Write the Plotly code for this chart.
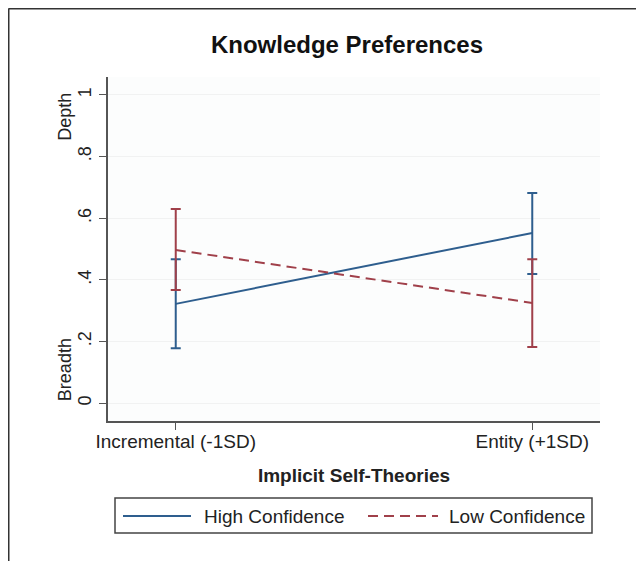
import plotly.graph_objects as go

# ---- data ----
categories = ["Incremental (-1SD)", "Entity (+1SD)"]
x_pos = [0, 1]
high_mean = [0.322, 0.552]
high_lo = [0.178, 0.419]
high_hi = [0.467, 0.682]
low_mean = [0.497, 0.325]
low_lo = [0.367, 0.182]
low_hi = [0.630, 0.467]
y_ticks = [0, 0.2, 0.4, 0.6, 0.8, 1]
y_ticktext = ["0", ".2", ".4", ".6", ".8", "1"]

BLUE = "#2e5e8e"
RED = "#a0404a"
FONT = "Liberation Sans, Arial, sans-serif"
FS = 19

fig = go.Figure()

def add_series(mean, lo, hi, color, dash, name):
    fig.add_trace(go.Scatter(
        x=x_pos, y=mean, mode="lines", name=name,
        line=dict(color=color, width=2, dash=dash),
        error_y=dict(type="data", symmetric=False,
                     array=[h - m for h, m in zip(hi, mean)],
                     arrayminus=[m - l for m, l in zip(mean, lo)],
                     color=color, thickness=2, width=5),
        showlegend=False,
    ))

add_series(high_mean, high_lo, high_hi, BLUE, "solid", "High Confidence")
add_series(low_mean, low_lo, low_hi, RED, "10px,6px", "Low Confidence")

# page has an 8px body margin; work in reference-pixel coordinates
OFF = 8
W, H = 644, 561
FIG_W, FIG_H = W - OFF, H - OFF
L, R, T, B = 108, 600, 77, 421
def px(v):
    return (v - L) / (R - L)
def py(v):
    return (B - v) / (B - T)

shapes = [
    dict(type="line", xref="paper", yref="paper", x0=px(8.5), x1=px(W), y0=py(8.5), y1=py(8.5),
         line=dict(color="#333333", width=2)),
    dict(type="line", xref="paper", yref="paper", x0=px(8.5), x1=px(8.5), y0=py(8.5), y1=py(H),
         line=dict(color="#333333", width=2)),
    dict(type="rect", xref="paper", yref="paper", x0=px(115), x1=px(592), y0=py(533), y1=py(498),
         line=dict(color="#444444", width=1.5), fillcolor="white"),
    dict(type="line", xref="paper", yref="paper", x0=px(123), x1=px(191), y0=py(516), y1=py(516),
         line=dict(color=BLUE, width=2)),
    dict(type="line", xref="paper", yref="paper", x0=px(368), x1=px(438), y0=py(516), y1=py(516),
         line=dict(color=RED, width=2, dash="10px,6px")),
]

annotations = [
    dict(text="High Confidence", xref="paper", yref="paper", x=px(202), y=py(516),
         xanchor="left", yanchor="middle", showarrow=False, font=dict(size=FS, color="#222", family=FONT)),
    dict(text="Low Confidence", xref="paper", yref="paper", x=px(447), y=py(516),
         xanchor="left", yanchor="middle", showarrow=False, font=dict(size=FS, color="#222", family=FONT)),
    dict(text="Depth", xref="paper", yref="y", x=px(65), y=0.929, textangle=-90,
         xanchor="center", yanchor="middle", showarrow=False, font=dict(size=18, color="#222", family=FONT)),
    dict(text="Breadth", xref="paper", yref="y", x=px(65), y=0.107, textangle=-90,
         xanchor="center", yanchor="middle", showarrow=False, font=dict(size=18, color="#222", family=FONT)),
]

fig.update_layout(
    width=FIG_W, height=FIG_H,
    margin=dict(l=L - OFF, r=FIG_W - (R - OFF), t=T - OFF, b=FIG_H - (B - OFF)),
    paper_bgcolor="white", plot_bgcolor="#fcfdfd",
    font=dict(family=FONT, size=FS, color="#222"),
    title=dict(text="<b>Knowledge Preferences</b>", x=(347 - OFF) / FIG_W, y=1 - (45 - OFF) / FIG_H,
               xanchor="center", yanchor="middle", font=dict(size=24, color="#111")),
    shapes=shapes, annotations=annotations,
    showlegend=False,
)
fig.update_xaxes(
    range=[-0.19, 1.19], tickvals=x_pos, ticktext=categories,
    showgrid=False, zeroline=False, showline=True, linecolor="#555", linewidth=1.5,
    ticks="outside", ticklen=7, tickcolor="#555", ticklabelstandoff=-5,
    title=dict(text="<b>Implicit Self-Theories</b>", standoff=18, font=dict(size=FS)),
)
fig.update_yaxes(
    range=[-0.058, 1.058], tickvals=y_ticks, ticktext=y_ticktext, tickangle=-90,
    showgrid=True, gridcolor="#f1f2f2", gridwidth=1, zeroline=False,
    showline=True, linecolor="#555", linewidth=1.5, tickfont=dict(size=18),
    ticks="outside", ticklen=7, tickcolor="#555", ticklabelstandoff=1,
)

fig.write_html("out.html", config={"displayModeBar": False})
